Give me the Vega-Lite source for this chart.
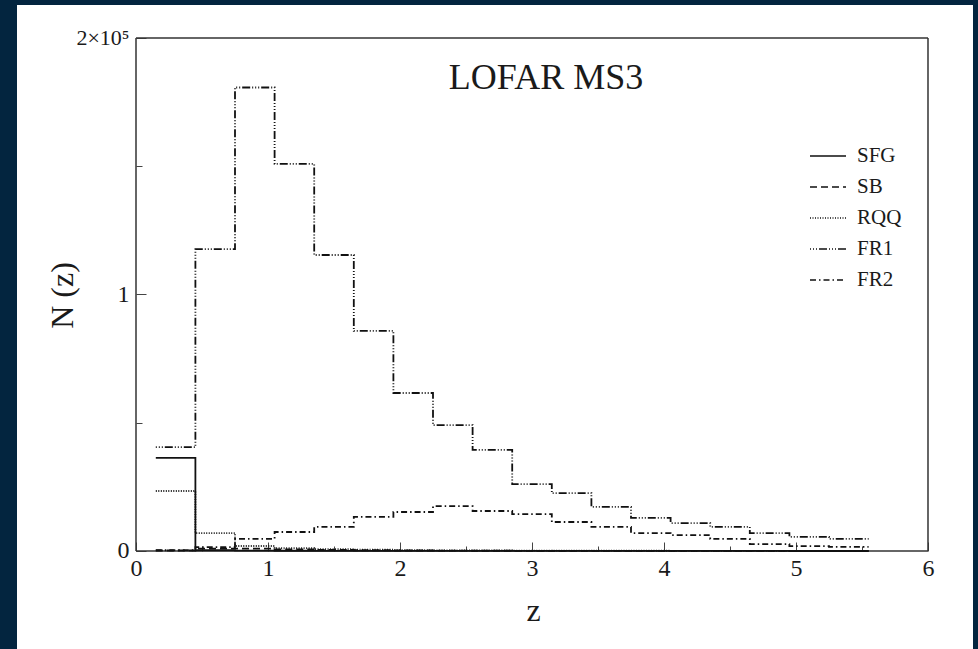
{
  "$schema": "https://vega.github.io/schema/vega-lite/v6.json",
  "width": 956,
  "height": 644,
  "autosize": {"type": "none"},
  "padding": {"left": 17, "top": 5, "right": 5, "bottom": 0},
  "background": "#03253f",
  "config": {
    "view": {"fill": "white", "stroke": null},
    "font": "Liberation Serif",
    "legend": {
      "orient": "none",
      "legendX": 792,
      "legendY": 132,
      "title": null,
      "symbolType": "stroke",
      "symbolSize": 1296,
      "symbolStrokeWidth": 1.7,
      "symbolStrokeColor": "#111111",
      "labelFont": "Liberation Serif",
      "labelFontSize": 21,
      "labelColor": "#1a1a1a",
      "labelOffset": 10,
      "rowPadding": 2
    }
  },
  "datasets": {
    "frame": [
      {"z": 0, "z2": 6, "N": 0, "N2": 0},
      {"z": 0, "z2": 6, "N": 200000, "N2": 200000},
      {"z": 0, "z2": 0, "N": 0, "N2": 200000},
      {"z": 6, "z2": 6, "N": 0, "N2": 200000}
    ],
    "hist": [
      {"s": "SFG", "lo": 0.15, "hi": 0.45, "N": 36300},
      {"s": "SFG", "lo": 0.45, "hi": 0.75, "N": 300},
      {"s": "SFG", "lo": 0.75, "hi": 1.05, "N": 150},
      {"s": "SFG", "lo": 1.05, "hi": 1.35, "N": 100},
      {"s": "SFG", "lo": 1.35, "hi": 1.65, "N": 80},
      {"s": "SFG", "lo": 1.65, "hi": 1.95, "N": 60},
      {"s": "SFG", "lo": 1.95, "hi": 2.25, "N": 50},
      {"s": "SFG", "lo": 2.25, "hi": 2.55, "N": 40},
      {"s": "SFG", "lo": 2.55, "hi": 2.85, "N": 30},
      {"s": "SFG", "lo": 2.85, "hi": 3.15, "N": 20},
      {"s": "SFG", "lo": 3.15, "hi": 3.45, "N": 20},
      {"s": "SFG", "lo": 3.45, "hi": 3.75, "N": 10},
      {"s": "SFG", "lo": 3.75, "hi": 4.05, "N": 10},
      {"s": "SFG", "lo": 4.05, "hi": 4.35, "N": 10},
      {"s": "SFG", "lo": 4.35, "hi": 4.65, "N": 10},
      {"s": "SFG", "lo": 4.65, "hi": 4.95, "N": 10},
      {"s": "SFG", "lo": 4.95, "hi": 5.25, "N": 5},
      {"s": "SFG", "lo": 5.25, "hi": 5.55, "N": 5},
      {"s": "SB", "lo": 0.15, "hi": 0.45, "N": 200},
      {"s": "SB", "lo": 0.45, "hi": 0.75, "N": 900},
      {"s": "SB", "lo": 0.75, "hi": 1.05, "N": 900},
      {"s": "SB", "lo": 1.05, "hi": 1.35, "N": 600},
      {"s": "SB", "lo": 1.35, "hi": 1.65, "N": 400},
      {"s": "SB", "lo": 1.65, "hi": 1.95, "N": 300},
      {"s": "SB", "lo": 1.95, "hi": 2.25, "N": 200},
      {"s": "SB", "lo": 2.25, "hi": 2.55, "N": 150},
      {"s": "SB", "lo": 2.55, "hi": 2.85, "N": 100},
      {"s": "SB", "lo": 2.85, "hi": 3.15, "N": 80},
      {"s": "SB", "lo": 3.15, "hi": 3.45, "N": 60},
      {"s": "SB", "lo": 3.45, "hi": 3.75, "N": 40},
      {"s": "SB", "lo": 3.75, "hi": 4.05, "N": 30},
      {"s": "SB", "lo": 4.05, "hi": 4.35, "N": 20},
      {"s": "SB", "lo": 4.35, "hi": 4.65, "N": 15},
      {"s": "SB", "lo": 4.65, "hi": 4.95, "N": 10},
      {"s": "SB", "lo": 4.95, "hi": 5.25, "N": 8},
      {"s": "SB", "lo": 5.25, "hi": 5.55, "N": 5},
      {"s": "RQQ", "lo": 0.15, "hi": 0.45, "N": 23400},
      {"s": "RQQ", "lo": 0.45, "hi": 0.75, "N": 7000},
      {"s": "RQQ", "lo": 0.75, "hi": 1.05, "N": 1950},
      {"s": "RQQ", "lo": 1.05, "hi": 1.35, "N": 1100},
      {"s": "RQQ", "lo": 1.35, "hi": 1.65, "N": 700},
      {"s": "RQQ", "lo": 1.65, "hi": 1.95, "N": 500},
      {"s": "RQQ", "lo": 1.95, "hi": 2.25, "N": 350},
      {"s": "RQQ", "lo": 2.25, "hi": 2.55, "N": 280},
      {"s": "RQQ", "lo": 2.55, "hi": 2.85, "N": 220},
      {"s": "RQQ", "lo": 2.85, "hi": 3.15, "N": 180},
      {"s": "RQQ", "lo": 3.15, "hi": 3.45, "N": 140},
      {"s": "RQQ", "lo": 3.45, "hi": 3.75, "N": 110},
      {"s": "RQQ", "lo": 3.75, "hi": 4.05, "N": 90},
      {"s": "RQQ", "lo": 4.05, "hi": 4.35, "N": 70},
      {"s": "RQQ", "lo": 4.35, "hi": 4.65, "N": 50},
      {"s": "RQQ", "lo": 4.65, "hi": 4.95, "N": 40},
      {"s": "RQQ", "lo": 4.95, "hi": 5.25, "N": 30},
      {"s": "RQQ", "lo": 5.25, "hi": 5.55, "N": 20},
      {"s": "FR1", "lo": 0.15, "hi": 0.45, "N": 40500},
      {"s": "FR1", "lo": 0.45, "hi": 0.75, "N": 117700},
      {"s": "FR1", "lo": 0.75, "hi": 1.05, "N": 180700},
      {"s": "FR1", "lo": 1.05, "hi": 1.35, "N": 150900},
      {"s": "FR1", "lo": 1.35, "hi": 1.65, "N": 115400},
      {"s": "FR1", "lo": 1.65, "hi": 1.95, "N": 85800},
      {"s": "FR1", "lo": 1.95, "hi": 2.25, "N": 61600},
      {"s": "FR1", "lo": 2.25, "hi": 2.55, "N": 49100},
      {"s": "FR1", "lo": 2.55, "hi": 2.85, "N": 39400},
      {"s": "FR1", "lo": 2.85, "hi": 3.15, "N": 26100},
      {"s": "FR1", "lo": 3.15, "hi": 3.45, "N": 22600},
      {"s": "FR1", "lo": 3.45, "hi": 3.75, "N": 17200},
      {"s": "FR1", "lo": 3.75, "hi": 4.05, "N": 12900},
      {"s": "FR1", "lo": 4.05, "hi": 4.35, "N": 10900},
      {"s": "FR1", "lo": 4.35, "hi": 4.65, "N": 9400},
      {"s": "FR1", "lo": 4.65, "hi": 4.95, "N": 7000},
      {"s": "FR1", "lo": 4.95, "hi": 5.25, "N": 5500},
      {"s": "FR1", "lo": 5.25, "hi": 5.55, "N": 4700},
      {"s": "FR2", "lo": 0.15, "hi": 0.45, "N": 300},
      {"s": "FR2", "lo": 0.45, "hi": 0.75, "N": 1500},
      {"s": "FR2", "lo": 0.75, "hi": 1.05, "N": 4700},
      {"s": "FR2", "lo": 1.05, "hi": 1.35, "N": 7400},
      {"s": "FR2", "lo": 1.35, "hi": 1.65, "N": 9400},
      {"s": "FR2", "lo": 1.65, "hi": 1.95, "N": 13300},
      {"s": "FR2", "lo": 1.95, "hi": 2.25, "N": 15200},
      {"s": "FR2", "lo": 2.25, "hi": 2.55, "N": 17500},
      {"s": "FR2", "lo": 2.55, "hi": 2.85, "N": 15600},
      {"s": "FR2", "lo": 2.85, "hi": 3.15, "N": 14400},
      {"s": "FR2", "lo": 3.15, "hi": 3.45, "N": 11300},
      {"s": "FR2", "lo": 3.45, "hi": 3.75, "N": 9400},
      {"s": "FR2", "lo": 3.75, "hi": 4.05, "N": 7000},
      {"s": "FR2", "lo": 4.05, "hi": 4.35, "N": 6200},
      {"s": "FR2", "lo": 4.35, "hi": 4.65, "N": 4700},
      {"s": "FR2", "lo": 4.65, "hi": 4.95, "N": 2700},
      {"s": "FR2", "lo": 4.95, "hi": 5.25, "N": 1900},
      {"s": "FR2", "lo": 5.25, "hi": 5.55, "N": 1600}
    ],
    "caption": [
      {"z": 3.106, "N": 184400, "label": "LOFAR MS3"}
    ]
  },
  "encoding": {
    "x": {
      "field": "z",
      "type": "quantitative",
      "scale": {"domain": [-0.90152, 6.34091], "nice": false, "zero": false},
      "axis": {
        "title": "z",
        "titleFont": "Liberation Serif",
        "titleFontSize": 32,
        "titleFontWeight": "normal",
        "titleColor": "#1a1a1a",
        "titleX": 516,
        "titleY": 59,
        "titleBaseline": "middle",
        "values": [0, 0.5, 1, 1.5, 2, 2.5, 3, 3.5, 4, 4.5, 5, 5.5, 6],
        "labelExpr": "datum.value % 1 === 0 ? format(datum.value, 'd') : ''",
        "labelFont": "Liberation Serif",
        "labelFontSize": 24,
        "labelColor": "#1a1a1a",
        "labelPadding": 14,
        "labelFlush": false,
        "labelOverlap": false,
        "domain": false,
        "grid": false,
        "offset": -98,
        "tickColor": "#444444",
        "tickWidth": 1,
        "tickSize": {"condition": {"test": "datum.value % 1 === 0", "value": -9}, "value": -5}
      }
    },
    "y": {
      "field": "N",
      "type": "quantitative",
      "scale": {"domain": [-38207, 212865], "nice": false, "zero": false},
      "axis": {
        "title": "N (z)",
        "titleFont": "Liberation Serif",
        "titleFontSize": 32,
        "titleFontWeight": "normal",
        "titleColor": "#1a1a1a",
        "titleX": -74,
        "titleY": 290,
        "titleBaseline": "middle",
        "values": [0, 50000, 100000, 150000, 200000],
        "labelExpr": "datum.value === 0 ? '0' : datum.value === 100000 ? '1' : datum.value === 200000 ? '2×10⁵' : ''",
        "labelFont": "Liberation Serif",
        "labelFontSize": {"condition": {"test": "datum.value === 200000", "value": 22}, "value": 24},
        "labelColor": "#1a1a1a",
        "labelPadding": 17,
        "labelFlush": false,
        "labelOverlap": false,
        "domain": false,
        "grid": false,
        "offset": -119,
        "tickColor": "#444444",
        "tickWidth": 1,
        "tickSize": {"condition": {"test": "datum.value % 100000 === 0", "value": -10}, "value": -6}
      }
    }
  },
  "layer": [
    {
      "data": {"name": "frame"},
      "mark": {"type": "rule", "color": "#333333", "strokeWidth": 1.5},
      "encoding": {
        "x2": {"field": "z2"},
        "y2": {"field": "N2"}
      }
    },
    {
      "data": {"name": "hist"},
      "transform": [
        {"fold": ["lo", "hi"], "as": ["edge", "z"]}
      ],
      "mark": {"type": "line", "color": "#111111", "strokeWidth": 1.8, "strokeCap": "butt"},
      "encoding": {
        "strokeDash": {
          "field": "s",
          "type": "nominal",
          "scale": {
            "domain": ["SFG", "SB", "RQQ", "FR1", "FR2"],
            "range": [[1, 0], [7, 4], [1, 1.5], [1, 2, 1, 2, 1, 2, 8, 2], [6, 3, 1.5, 3]]
          }
        },
        "order": [{"field": "z", "type": "quantitative"}, {"field": "lo", "type": "quantitative"}]
      }
    },
    {
      "data": {"name": "caption"},
      "mark": {"type": "text", "font": "Liberation Serif", "fontSize": 36, "color": "#1a1a1a", "align": "center", "baseline": "middle"},
      "encoding": {
        "text": {"field": "label"}
      }
    }
  ]
}
